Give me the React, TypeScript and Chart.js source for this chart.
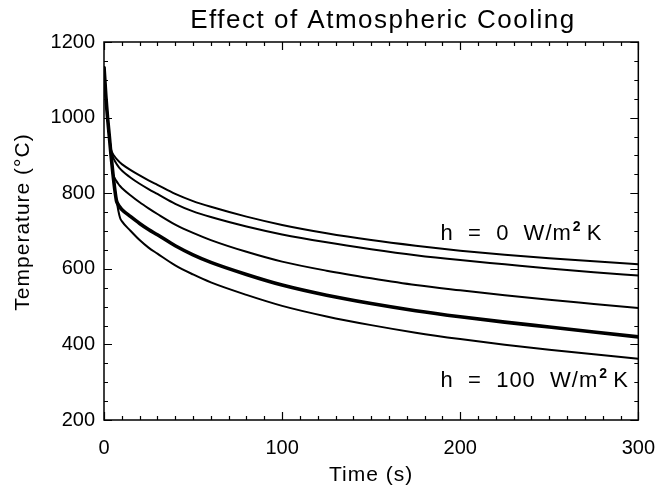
import { useEffect, useRef } from "react";
import { Chart, registerables } from "chart.js";

Chart.register(...registerables);

// Time (s)
const timeS = [0, 1, 2, 3, 4, 5, 6, 7, 8, 9, 10, 15, 20, 25, 30, 40, 50, 60, 80, 100, 125, 150, 175, 200, 225, 250, 275, 300];

// Temperature (°C) for each convective coefficient (top to bottom)
const tempCurve1 = [1135, 1060, 1000, 950, 915, 904, 897, 891, 886, 881, 877, 861, 847, 834, 822, 798, 779, 764, 738, 716, 694, 676, 661, 648, 637, 628, 620, 612];
const tempCurve2 = [1135, 1060, 1000, 950, 912, 896, 886, 878, 871, 865, 860, 841, 825, 811, 798, 772, 752, 737, 712, 691, 670, 652, 636, 623, 612, 601, 591, 582];
const tempCurve3 = [1135, 1060, 1000, 950, 900, 852, 840, 832, 825, 819, 814, 794, 776, 760, 745, 717, 695, 676, 645, 619, 595, 575, 557, 543, 530, 518, 507, 496];
const tempCurve4 = [1135, 1060, 1000, 950, 898, 852, 812, 780, 770, 763, 757, 738, 720, 704, 690, 661, 637, 617, 585, 557, 530, 508, 489, 473, 459, 446, 433, 420];
const tempCurve5 = [1135, 1060, 1000, 950, 898, 852, 812, 782, 755, 735, 726, 700, 676, 656, 640, 609, 585, 564, 531, 502, 474, 451, 431, 414, 399, 386, 374, 362];

const seriesList = [tempCurve1, tempCurve2, tempCurve3, tempCurve4, tempCurve5];
const seriesWidths = [2, 2, 2, 3.6, 2];

const xTickLabels = [0, 100, 200, 300];
const yTickLabels = [200, 400, 600, 800, 1000, 1200];

const titleText = "Effect of Atmospheric Cooling";
const xTitleText = "Time (s)";
const yTitleText = "Temperature (°C)";
const annotations = [
  { t: 189, temp: 676, main: "h  =  0  W/m", sup: "2", tail: " K" },
  { t: 189, temp: 287, main: "h  =  100  W/m", sup: "2", tail: " K" },
];

const FONT = "'Liberation Sans', Arial, sans-serif";

const framePlugin = {
  id: "framePlugin",
  afterDraw(chart: any) {
    const { ctx, chartArea } = chart;
    const xs = chart.scales.x;
    const ys = chart.scales.y;
    const { left, right, top, bottom } = chartArea;
    ctx.save();
    ctx.strokeStyle = "#000";
    ctx.lineWidth = 1.5;
    ctx.strokeRect(left, top, right - left, bottom - top);
    ctx.lineWidth = 1.2;
    // x ticks every 10, major every 100
    for (let v = 0; v <= 300; v += 10) {
      const px = Math.round(xs.getPixelForValue(v)) + 0.5;
      const len = v % 100 === 0 ? 8 : 4;
      ctx.beginPath();
      ctx.moveTo(px, bottom);
      ctx.lineTo(px, bottom - len);
      ctx.moveTo(px, top);
      ctx.lineTo(px, top + len);
      ctx.stroke();
    }
    // y ticks every 50, major every 200
    for (let v = 200; v <= 1200; v += 50) {
      const py = Math.round(ys.getPixelForValue(v)) + 0.5;
      const len = v % 200 === 0 ? 8 : 4;
      ctx.beginPath();
      ctx.moveTo(left, py);
      ctx.lineTo(left + len, py);
      ctx.moveTo(right, py);
      ctx.lineTo(right - len, py);
      ctx.stroke();
    }

    ctx.fillStyle = "#000";
    // title
    ctx.font = `26px ${FONT}`;
    (ctx as any).letterSpacing = "1.5px";
    ctx.textAlign = "center";
    ctx.textBaseline = "alphabetic";
    ctx.fillText(titleText, 383, 28);

    // x title
    ctx.font = `21px ${FONT}`;
    (ctx as any).letterSpacing = "1px";
    ctx.fillText(xTitleText, (left + right) / 2, 481);

    // y title
    ctx.save();
    ctx.translate(23, 222);
    ctx.rotate(-Math.PI / 2);
    ctx.textBaseline = "middle";
    ctx.fillText(yTitleText, 0, 0);
    ctx.restore();

    // annotations
    ctx.textAlign = "left";
    ctx.textBaseline = "alphabetic";
    for (const a of annotations) {
      const x0 = xs.getPixelForValue(a.t);
      const y0 = ys.getPixelForValue(a.temp);
      ctx.font = `22px ${FONT}`;
      (ctx as any).letterSpacing = "1px";
      ctx.fillText(a.main, x0, y0);
      const w = ctx.measureText(a.main).width;
      ctx.font = `bold 14px ${FONT}`;
      (ctx as any).letterSpacing = "0px";
      ctx.fillText(a.sup, x0 + w + 1, y0 - 9);
      const w2 = ctx.measureText(a.sup).width;
      ctx.font = `22px ${FONT}`;
      ctx.fillText(a.tail, x0 + w + w2 + 1, y0);
    }
    ctx.restore();
  },
};

export default function App() {
  const canvasRef = useRef<HTMLCanvasElement | null>(null);

  useEffect(() => {
    if (!canvasRef.current) return;
    const datasets = seriesList.map((s, i) => ({
      data: s.map((v, j) => ({ x: timeS[j], y: v })),
      borderColor: "#000",
      backgroundColor: "#000",
      borderWidth: seriesWidths[i],
      pointRadius: 0,
      cubicInterpolationMode: "monotone" as const,
      fill: false,
    }));
    const chart = new Chart(canvasRef.current, {
      type: "line",
      data: { datasets },
      options: {
        animation: false,
        responsive: true,
        maintainAspectRatio: false,
        layout: { padding: { top: 42, right: 30, left: 0, bottom: 0 } },
        plugins: {
          legend: { display: false },
          title: { display: false },
          tooltip: { enabled: false },
        },
        scales: {
          x: {
            type: "linear",
            min: 0,
            max: 300,
            afterBuildTicks: (s: any) => {
              s.ticks = xTickLabels.map((v) => ({ value: v }));
            },
            afterFit: (s: any) => {
              s.height = 68;
            },
            ticks: {
              color: "#000",
              font: { family: FONT, size: 20 },
              padding: 16,
              maxRotation: 0,
              autoSkip: false,
              callback: (v: any) => String(v),
            },
            grid: { display: false, drawTicks: false },
            border: { display: false },
          },
          y: {
            type: "linear",
            min: 200,
            max: 1200,
            afterBuildTicks: (s: any) => {
              s.ticks = yTickLabels.map((v) => ({ value: v }));
            },
            afterFit: (s: any) => {
              s.width = 104;
            },
            ticks: {
              color: "#000",
              font: { family: FONT, size: 20 },
              padding: 9,
              autoSkip: false,
              callback: (v: any) => String(v),
            },
            grid: { display: false, drawTicks: false },
            border: { display: false },
          },
        },
      },
      plugins: [framePlugin],
    });
    return () => chart.destroy();
  }, []);

  return (
    <div style={{ position: "fixed", left: 0, top: 0, width: 671, height: 488, background: "#fff" }}>
      <canvas ref={canvasRef} />
    </div>
  );
}
